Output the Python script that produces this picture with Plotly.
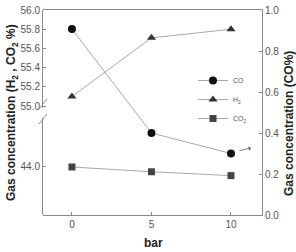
import plotly.graph_objects as go

pressure = [0, 5, 10]
co = [0.907, 0.40, 0.30]          # right axis (CO %)
h2 = [55.1, 55.71, 55.8]          # left upper axis
co2 = [44.0, 43.95, 43.91]        # left lower axis

upper_ticks = [55.0, 55.2, 55.4, 55.6, 55.8, 56.0]
lower_ticks = [44.0]
right_ticks = [0.0, 0.2, 0.4, 0.6, 0.8, 1.0]
x_ticks = [0, 5, 10]

W, H = 296, 252
L, R, T, B = 43, 34, 10, 37
pw, ph = W - L - R, H - T - B

def py(pix):  # pixel y from top -> paper fraction
    return (H - B - pix) / ph

def px(pix):
    return (pix - L) / pw

line_c = "#a8a8a8"
axis_c = "#8a8a8a"
tick_font = dict(family="Liberation Sans, Arial", size=10, color="#555")

fig = go.Figure()
fig.add_trace(go.Scatter(x=pressure, y=co, name="CO", xaxis="x", yaxis="y", mode="lines+markers",
                         line=dict(color=line_c, width=1),
                         marker=dict(symbol="circle", size=8, color="#111")))
fig.add_trace(go.Scatter(x=pressure, y=h2, name="H<sub>2</sub>", xaxis="x", yaxis="y2", mode="lines+markers",
                         line=dict(color=line_c, width=1),
                         marker=dict(symbol="triangle-up", size=8, color="#333")))
fig.add_trace(go.Scatter(x=pressure, y=co2, name="CO<sub>2</sub>", xaxis="x", yaxis="y3", mode="lines+markers",
                         line=dict(color=line_c, width=1),
                         marker=dict(symbol="square", size=7, color="#444")))

up_lo = py(108)
lo_hi = py(118)

fig.update_layout(
    width=W, height=H,
    margin=dict(l=L, r=R, t=T, b=B, autoexpand=False),
    plot_bgcolor="rgba(0,0,0,0)", paper_bgcolor="white",
    showlegend=True,
    legend=dict(x=px(193), y=py(66), xanchor="left", yanchor="top",
                font=dict(family="Liberation Sans, Arial", size=7, color="#555"),
                bgcolor="rgba(0,0,0,0)", itemwidth=30, tracegroupgap=0),
    xaxis=dict(range=[-1.82, 11.95], tickvals=x_ticks, ticks="inside", ticklen=3,
               tickcolor=axis_c, showline=True, linecolor=axis_c, linewidth=1,
               mirror=True, showgrid=False, zeroline=False, tickfont=tick_font,
               anchor="y", automargin=False),
    yaxis=dict(domain=[0, 1], range=[0, 1], side="right", anchor="x",
               tickvals=right_ticks, ticktext=[f"{v:.1f}" for v in right_ticks],
               ticks="inside", ticklen=3, tickcolor=axis_c,
               showline=True, linecolor=axis_c, linewidth=1, automargin=False,
               showgrid=False, zeroline=False, tickfont=tick_font),
    yaxis2=dict(domain=[up_lo, 1], range=[54.98, 56.0], side="left", anchor="x",
                tickvals=upper_ticks, ticktext=[f"{v:.1f}" for v in upper_ticks],
                ticks="inside", ticklen=3, tickcolor=axis_c, automargin=False,
                showline=True, linecolor=axis_c, linewidth=1,
                showgrid=False, zeroline=False, tickfont=tick_font),
    yaxis3=dict(domain=[0, lo_hi], range=[43.5, 44.51], side="left", anchor="x",
                tickvals=lower_ticks, ticktext=[f"{v:.1f}" for v in lower_ticks],
                ticks="inside", ticklen=3, tickcolor=axis_c, automargin=False,
                showline=True, linecolor=axis_c, linewidth=1,
                showgrid=False, zeroline=False, tickfont=tick_font),
)

# axis break marks
for yc in (104, 119):
    fig.add_shape(type="line", xref="paper", yref="paper",
                  x0=px(39), x1=px(47), y0=py(yc + 5), y1=py(yc - 5),
                  line=dict(color=axis_c, width=1))

title_font = dict(family="Liberation Sans, Arial", size=12, color="#222")
fig.add_annotation(text="<b>Gas concentration (H<sub>2</sub> , CO<sub>2</sub> %)</b>",
                   xref="paper", yref="paper", x=px(12), y=py(113), textangle=-90,
                   showarrow=False, font=title_font, xanchor="center", yanchor="middle")
fig.add_annotation(text="<b>Gas concentration (CO%)</b>",
                   xref="paper", yref="paper", x=px(289), y=py(124), textangle=-90,
                   showarrow=False, font=title_font, xanchor="center", yanchor="middle")
fig.add_annotation(text="<b>bar</b>", xref="paper", yref="paper", x=px(153), y=py(243),
                   showarrow=False, font=title_font, xanchor="center", yanchor="middle")
# arrow pointing to right axis
fig.add_annotation(text="", xref="paper", yref="paper", x=px(251), y=py(148),
                   ax=-13, ay=3, showarrow=True, arrowhead=1, arrowsize=1,
                   arrowwidth=0.8, arrowcolor="#666")

fig.write_html("out.html")
